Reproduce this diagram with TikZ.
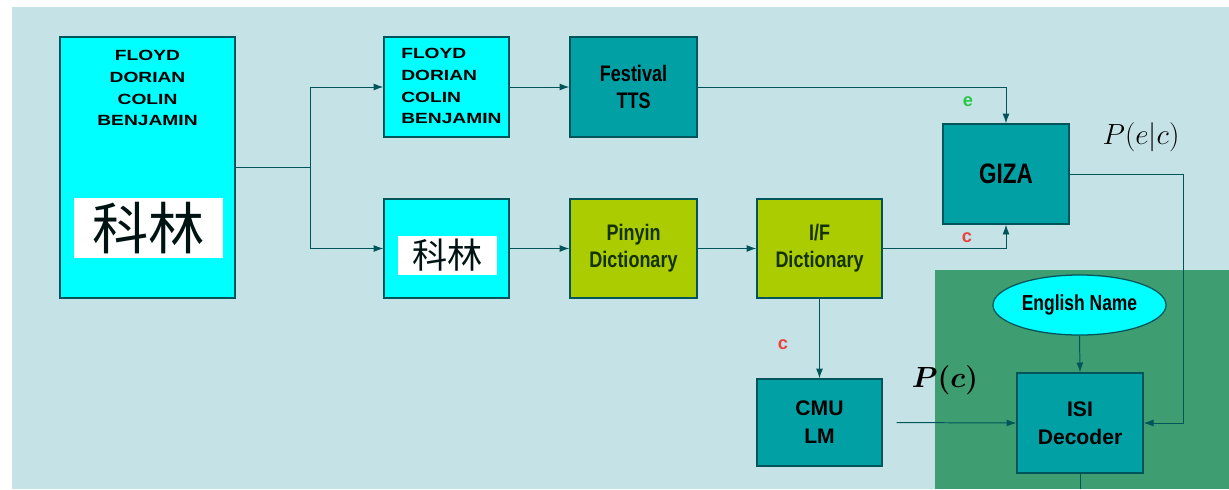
\documentclass[tikz,border=0pt]{standalone}
\usepackage{fontspec}
\usepackage{bm}
\setmainfont{Liberation Sans}
\newfontfamily\cjk{Noto Sans CJK SC}
\newfontfamily\boxfont{Liberation Sans}[FakeStretch=0.8]
\newfontfamily\namefont{Liberation Sans}[FakeStretch=1.3]
\usetikzlibrary{arrows.meta,shapes.geometric}

\definecolor{bgblue}{RGB}{197,227,230}
\definecolor{decgreen}{RGB}{62,158,114}
\definecolor{srccyan}{RGB}{0,255,255}
\definecolor{toolteal}{RGB}{0,160,165}
\definecolor{dictyellow}{RGB}{170,204,0}
\definecolor{linecol}{RGB}{0,85,90}
\definecolor{dicttext}{RGB}{20,50,0}
\definecolor{lblred}{RGB}{235,65,65}
\definecolor{lblgreen}{RGB}{40,200,70}

\tikzset{
  wire/.style={draw=linecol, line width=0.7pt},
  arr/.style={wire, -{Latex[length=7pt,width=5pt]}},
  boxbase/.style={draw=linecol, line width=0.9pt, inner sep=2pt, align=center},
  srcbox/.style={boxbase, fill=srccyan},
  toolbox/.style={boxbase, fill=toolteal, font=\boxfont\bfseries\fontsize{16}{19}\selectfont},
  dictbox/.style={boxbase, fill=dictyellow, text=dicttext, font=\boxfont\bfseries\fontsize{16}{19}\selectfont},
  zhbox/.style={fill=white, inner sep=0pt, text=black!85!teal},
  namelist/.style={font=\namefont\bfseries\fontsize{10.5}{15.6}\selectfont, inner sep=0pt},
  lbl/.style={font=\bfseries\fontsize{13}{13}\selectfont, inner sep=1pt},
  prob/.style={inner sep=1pt}
}

\begin{document}
\begin{tikzpicture}[x=0.025cm,y=-0.025cm]
  \useasboundingbox (0,0) rectangle (1229,489);
  \fill[bgblue] (12,7) rectangle (1229,489);
  \fill[decgreen] (935,270) rectangle (1229,489);

  % input names
  \node[srcbox, minimum width=4.375cm, minimum height=6.525cm] (src) at (147.5,167.5) {};
  \node[namelist, align=center] (srcnames) at (147.5,88) {FLOYD\\DORIAN\\COLIN\\BENJAMIN};
  \node[zhbox, minimum width=3.725cm, minimum height=1.5cm, font=\cjk\fontsize{40}{40}\selectfont] (srczh) at (148.5,228) {科林};

  % english side
  \node[srcbox, minimum width=3.125cm, minimum height=2.5cm] (en) at (446.5,87) {};
  \node[namelist, align=left, anchor=west] (ennames) at (401,86) {FLOYD\\DORIAN\\COLIN\\BENJAMIN};
  \node[toolbox, minimum width=3.175cm, minimum height=2.5cm] (tts) at (633.5,87) {Festival\\TTS};

  % chinese side
  \node[srcbox, minimum width=3.125cm, minimum height=2.475cm] (zh) at (446.5,248.5) {};
  \node[zhbox, minimum width=2.475cm, minimum height=0.975cm, font=\cjk\fontsize{25}{25}\selectfont] (zhchars) at (447.5,255.5) {科林};
  \node[dictbox, minimum width=3.175cm, minimum height=2.475cm] (pinyin) at (633.5,248.5) {Pinyin\\Dictionary};
  \node[dictbox, minimum width=3.125cm, minimum height=2.475cm] (ifd) at (819.5,248.5) {I/F\\Dictionary};

  \node[toolbox, minimum width=3.15cm, minimum height=2.5cm, font=\boxfont\bfseries\fontsize{20}{22}\selectfont] (giza) at (1006,174) {GIZA};
  \node[toolbox, minimum width=3.125cm, minimum height=2.175cm, font=\bfseries\fontsize{15}{20}\selectfont] (cmu) at (819.5,422.5) {CMU\\LM};
  \node[toolbox, minimum width=3.15cm, minimum height=2.5cm, font=\bfseries\fontsize{15}{20}\selectfont] (isi) at (1080,423) {ISI\\Decoder};
  \node[ellipse, draw=linecol, line width=0.9pt, fill=srccyan, minimum width=4.325cm, minimum height=1.5cm, inner sep=0pt, font=\boxfont\bfseries\fontsize{15.5}{17}\selectfont] (ename) at (1079.5,305) {English Name};

  % connectors
  \draw[wire] (src.east) -- ++(75,0) coordinate (split);
  \draw[arr] (split) |- (en.west);
  \draw[arr] (split) |- (zh.west);
  \draw[arr] (en.east) -- (tts.west);
  \draw[arr] (tts.east) -| (giza.north);
  \draw[arr] (zh.east) -- (pinyin.west);
  \draw[arr] (pinyin.east) -- (ifd.west);
  \draw[arr] (ifd.east) -| (giza.south);
  \draw[arr] (ifd.south) -- (cmu.north);
  \draw[arr, shorten <=10pt] (cmu.east) -- (isi.west);
  \draw[arr] (giza.east) -- ++(114,0) |- (isi.east);
  \draw[arr] (ename.south) -- (isi.north);
  \coordinate (out) at (1080,489);
  \draw[wire] (isi.south) -- (out);

  % labels
  \node[lbl, text=lblgreen] (elbl) at (968,102) {e};
  \node[lbl, text=lblred] (clbl) at (967,238) {c};
  \node[lbl, text=lblred] (cmulbl) at (783,345) {c};
  \node[prob, font=\fontsize{21}{24}\selectfont] (pgiven) at (1141,137) {$P(e|c)$};
  \node[prob, font=\fontsize{21}{24}\selectfont] (pprior) at (945,380) {$\bm{P(c)}$};
\end{tikzpicture}
\end{document}
